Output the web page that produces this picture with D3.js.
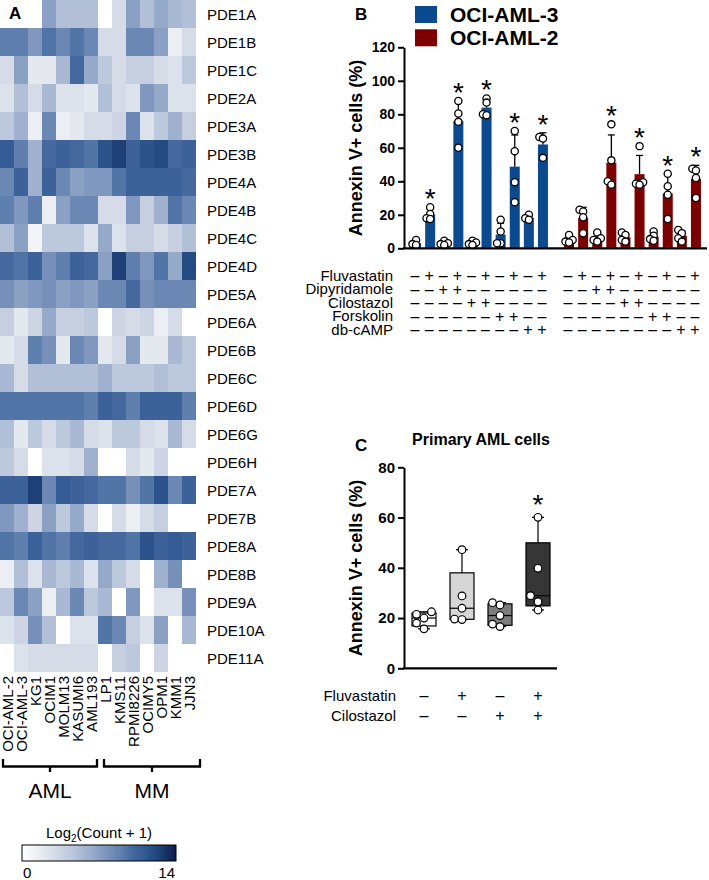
<!DOCTYPE html>
<html><head><meta charset="utf-8">
<script src="https://cdn.jsdelivr.net/npm/d3@7"></script>
<style>
html,body{margin:0;padding:0;background:#fff;}
svg{display:block;font-family:Arial,"Liberation Sans",Helvetica,sans-serif;}
svg text{fill:#000;}
</style></head><body>
<svg id="chart" width="709" height="880"></svg>
<script>
// ---------------- Panel A data ----------------
const genes = ["PDE1A","PDE1B","PDE1C","PDE2A","PDE3A","PDE3B","PDE4A","PDE4B","PDE4C","PDE4D","PDE5A","PDE6A","PDE6B","PDE6C","PDE6D","PDE6G","PDE6H","PDE7A","PDE7B","PDE8A","PDE8B","PDE9A","PDE10A","PDE11A"];
const cellLines = ["OCI-AML-2","OCI-AML-3","KG1","OCIM1","MOLM13","KASUMI6","AML193","LP1","KMS11","RPMI8226","OCIMY5","OPM1","KMM1","JJN3"];
const cellGroups = [{name:"AML", first:"OCI-AML-2", last:"AML193"},{name:"MM", first:"LP1", last:"JJN3"}];
const expression = [
 [0,0,0,7,5,5,5,0,3,7,5,6.5,5.5,5],
 [9,9,7.5,9.5,8.5,9.5,8.5,3,3,8.5,8.5,7,1.5,3],
 [3,7,2,2,5.5,10,6.5,4.5,3,4,4,3,2.5,4.5],
 [2.5,5,3,5.5,2.5,2.5,2,5,3,2.5,7.5,6.5,2.5,2.5],
 [4.5,6,1.5,8.5,1.5,2,3,3,3.5,8.5,2.5,4.5,6,4],
 [11,9,6,10,10.5,10,9.5,11.5,12.5,10.5,11.5,12,10,10.5],
 [8.5,10.5,6,10.5,8.5,7,7.5,7.5,9.5,10.5,10.5,10.5,10.5,10],
 [9,7.5,9,1.5,7,8.5,8.5,3,3,7.5,4,6,9.5,8.5],
 [5,7,1,4.5,4.5,4.5,2.5,6.5,2.5,4,4,3,4,5],
 [10,9.5,10.5,8,9,10.5,10,7,12.5,9,7.5,9.5,6.5,12],
 [8,7,7.5,8,7,7.5,7,8.5,8.5,10,8,8.5,8.5,8.5],
 [4,2,3.5,6.5,4,4,4.5,0,3.5,3,3.5,1.5,3,0],
 [2,3,9,8,2,8.5,7.5,2,3,7,2,2,5.5,4.5],
 [5.5,3,5,5,5,5,5,6,4.5,4.5,4.5,5,4.5,4.5],
 [9.5,9.5,9.5,9.5,9.5,9.5,9,10.5,10,9,10.5,10.5,10.5,9],
 [5,2,4.5,3,4.5,5.5,3,2.5,4.5,4.5,3,2.5,5.5,3],
 [4.5,3,0,2.5,2.5,3,6,0,0,3,2,3.5,0,0],
 [10.5,10.5,12.5,8.5,11,10.5,10,9.5,9.5,8,9.5,11.5,8.5,10.5],
 [7.5,6,3.5,7,4.5,6.5,3,0,3,1.5,3,4,0,0],
 [9.5,9,10.5,9.5,9,10,10.5,10,10,9.5,11.5,10.5,11,10.5],
 [1.5,5,2.5,5.5,4.5,5.5,2.5,6.5,4.5,3,0,6,8,0],
 [4.5,8.5,7,1.5,5.5,8.5,4.5,5.5,0,7.5,0,2.5,2.5,8],
 [2.5,3.5,8,5,0,2.5,2.5,9.5,8.5,4,2.5,7,0,5.5],
 [0,2.5,3,3,3,3,3,0,4,4.5,0,3.5,0,0]
];
const colorDomain = [0, 14];
const colorTicks = [0, 14];

// ---------------- Panel B data ----------------
const cellLinesB = ["OCI-AML-3","OCI-AML-2"];
const conditionsB = ["ctrl","F","D","F+D","C","F+C","Fk","F+Fk","cAMP","F+cAMP"];
const treatmentsB = ["Fluvastatin","Dipyridamole","Cilostazol","Forskolin","db-cAMP"];
const treatmentMatrixB = [
 [0,1,0,1,0,1,0,1,0,1],
 [0,0,1,1,0,0,0,0,0,0],
 [0,0,0,0,1,1,0,0,0,0],
 [0,0,0,0,0,0,1,1,0,0],
 [0,0,0,0,0,0,0,0,1,1]
];
const aml3Points = [
 [5,2.5,2],[24.5,20.5,18,17.5],[4.5,3,2.5,2],[88,80.5,75.5,60],[4.5,3.5,2.5,2],
 [89.5,87,80,79.5],[17,10,3,3],[70,58,39.5,27.5],[20,18,17],[66.5,65.5,54]
];
const aml2Points = [
 [8,5,4,3.5],[23,22,18.5,9],[9.5,6,5,4],[74,52.5,40,38],[9.5,8,5,4],
 [61,39.5,38.5,38],[10,7.5,5.5,4.5],[44.5,37,32,17.5],[11,9,6,4],[47.5,46.5,42,30]
];
const aml3Sig = [0,1,0,1,0,1,0,1,0,1];
const aml2Sig = [0,0,0,1,0,1,0,1,0,1];
const yTicksB = [0,20,40,60,80,100,120];

// ---------------- Panel C data ----------------
const groupsC = ["ctrl","F","C","F+C"];
const primaryPoints = [
 [22.5,21.5,20,18,15.7],
 [47.2,28.8,23.9,19.6,19.4],
 [26.1,25.2,21,17.6,16.6],
 [60.1,39.8,28.9,26.5,23.2]
];
const treatmentsC = ["Fluvastatin","Cilostazol"];
const treatmentMatrixC = [[0,1,0,1],[0,0,1,1]];
const sigC = [0,0,0,1];
const yTicksC = [0,20,40,60,80];

// ---------------- styles ----------------
const FONT = "Arial, 'Liberation Sans', Helvetica, sans-serif";
const seriesColors = {"OCI-AML-3":"#0b4a8f","OCI-AML-2":"#7d0000"};
const boxFills = ["#ffffff","#d6d6d6","#7d7d7d","#363636"];

const svg = d3.select("#chart");

// ================= Panel A =================
const xA = d3.scaleBand().domain(cellLines).range([0,196]);
const yA = d3.scaleBand().domain(genes).range([0,672]);
const color = d3.scaleLinear()
  .domain([0,2,4,6,8,9,10,11,12,14])
  .range(["#ffffff","#e4e8ef","#c5cfe0","#9fb1ce","#7690ba","#5f80af","#45699f","#345b93","#244c83","#0c1b4d"])
  .clamp(true);

const cells = [];
expression.forEach((row,r)=>row.forEach((v,c)=>cells.push({g:genes[r],c:cellLines[c],v})));
const gA = svg.append("g");
gA.selectAll("rect").data(cells).join("rect")
  .attr("x",d=>xA(d.c)).attr("y",d=>yA(d.g))
  .attr("width",xA.bandwidth()+0.4).attr("height",yA.bandwidth()+0.4)
  .attr("fill",d=>color(d.v)).attr("shape-rendering","crispEdges");

svg.append("text").attr("x",9).attr("y",19).attr("font-size",17).attr("font-weight","bold").text("A");

gA.selectAll("text.gene").data(genes).join("text").attr("class","gene")
  .attr("x",207).attr("y",d=>yA(d)+yA.bandwidth()/2)
  .attr("dominant-baseline","central").attr("font-size",15).text(d=>d);

gA.selectAll("text.cl").data(cellLines).join("text").attr("class","cl")
  .attr("transform",d=>`translate(${xA(d)+xA.bandwidth()/2},676) rotate(-90)`)
  .attr("text-anchor","end").attr("dominant-baseline","central").attr("font-size",15).text(d=>d);

cellGroups.forEach((g,gi)=>{
  const x0 = xA(g.first)+(gi===0?3:6), x1 = xA(g.last)+xA.bandwidth()+(gi===0?-1:4);
  const yb = 766.5, mid=(x0+x1)/2;
  gA.append("path").attr("d",`M${x0},759 L${x0},${yb} L${x1},${yb} L${x1},759 M${mid},${yb} L${mid},772`)
    .attr("fill","none").attr("stroke","#000").attr("stroke-width",2.3);
  gA.append("text").attr("x",mid).attr("y",798).attr("text-anchor","middle").attr("font-size",21).text(g.name);
});

// colorbar
const xCb = d3.scaleLinear().domain(colorDomain).range([22,176]);
const defs = svg.append("defs");
const grad = defs.append("linearGradient").attr("id","cb").attr("x1","0%").attr("x2","100%");
d3.range(0,14.01,0.5).forEach(t=>grad.append("stop").attr("offset",(t/14*100)+"%").attr("stop-color",color(t)));
svg.append("rect").attr("x",xCb(0)).attr("y",845).attr("width",xCb(14)-xCb(0)).attr("height",16)
  .attr("fill","url(#cb)").attr("stroke","#000").attr("stroke-width",1);
const cbt = svg.append("text").attr("x",(xCb(0)+xCb(14))/2).attr("y",838).attr("text-anchor","middle").attr("font-size",15);
cbt.append("tspan").text("Log");
cbt.append("tspan").attr("font-size",10).attr("dy",4).text("2");
cbt.append("tspan").attr("dy",-4).text("(Count + 1)");
colorTicks.forEach((t,i)=>{
  svg.append("text").attr("x",i===0?xCb(t)+1:xCb(t)-1).attr("y",878)
    .attr("text-anchor",i===0?"start":"end").attr("font-size",15).text(t);
});

// ================= helpers =================
function swarm(values, yScale, thresh, step){
  const idx = values.map((v,i)=>i).sort((a,b)=>values[a]-values[b]);
  const placed=[], off=new Array(values.length).fill(0);
  const cands=[0,-step,step,-2*step,2*step];
  idx.forEach(i=>{
    const y=yScale(values[i]); let chosen=cands[cands.length-1];
    for(const dx of cands){ if(placed.every(p=>Math.hypot(p.x-dx,p.y-y)>=thresh)){chosen=dx;break;} }
    off[i]=chosen; placed.push({x:chosen,y});
  });
  return off;
}
function starText(g,x,yc,fs){
  g.append("text").attr("x",x).attr("y",yc+0.6*fs).attr("text-anchor","middle").attr("font-size",fs).text("*");
}
// one text line holding a row of signs, each sign placed at its own x
function signRow(g,xs,flags,y,fs){
  const t=g.append("text").attr("y",y).attr("dominant-baseline","central").attr("text-anchor","middle").attr("font-size",fs);
  xs.forEach((x,i)=>t.append("tspan").attr("x",x).text(flags[i]?"+":"\u2013"));
}

// ================= Panel B =================
const gB = svg.append("g");
const yB = d3.scaleLinear().domain([0,120]).range([248.3,47.3]);
const outer = d3.scaleBand().domain(cellLinesB).range([409,703]).paddingInner(0.0784);
const inner = d3.scaleBand().domain(conditionsB).range([0,outer.bandwidth()]).paddingInner(0.29).paddingOuter(0.145);
const barsB = [];
[[cellLinesB[0],aml3Points,aml3Sig],[cellLinesB[1],aml2Points,aml2Sig]].forEach(([cl,pts,sig])=>{
  pts.forEach((p,i)=>{
    const mean=d3.mean(p), sd=d3.deviation(p);
    barsB.push({cl,cond:conditionsB[i],pts:p,mean,sd,sig:sig[i],
      x:outer(cl)+inner(conditionsB[i]), cx:outer(cl)+inner(conditionsB[i])+inner.bandwidth()/2});
  });
});

svg.append("text").attr("x",355).attr("y",20).attr("font-size",17).attr("font-weight","bold").text("B");

// legend
cellLinesB.forEach((cl,i)=>{
  gB.append("rect").attr("x",415).attr("y",6+i*23.3).attr("width",22).attr("height",17).attr("fill",seriesColors[cl]);
  gB.append("text").attr("x",450).attr("y",21.7+i*23.3).attr("font-size",21).attr("font-weight","bold").text(cl);
});

// bars
barsB.forEach(b=>{
  gB.append("rect").attr("x",b.x).attr("y",yB(b.mean)).attr("width",inner.bandwidth())
    .attr("height",yB(0)-yB(b.mean)).attr("fill",seriesColors[b.cl]);
  const top=yB(b.mean+b.sd);
  gB.append("line").attr("x1",b.cx).attr("x2",b.cx).attr("y1",yB(b.mean)).attr("y2",top).attr("stroke","#000").attr("stroke-width",1.3);
  gB.append("line").attr("x1",b.cx-3.5).attr("x2",b.cx+3.5).attr("y1",top).attr("y2",top).attr("stroke","#000").attr("stroke-width",1.3);
  const off=swarm(b.pts,yB,3.6,3.6);
  b.pts.forEach((v,k)=>{
    gB.append("circle").attr("cx",b.cx+off[k]).attr("cy",yB(v)).attr("r",3.6)
      .attr("fill","#fff").attr("stroke","#000").attr("stroke-width",1.3);
  });
  if(b.sig){
    const m=Math.max(d3.max(b.pts),b.mean+b.sd);
    starText(gB,b.cx,yB(m)-16,28);
  }
});

// axes
const axB = gB.append("g").attr("transform","translate(404,0)")
  .call(d3.axisLeft(yB).tickValues(yTicksB).tickSize(6).tickSizeOuter(0).tickPadding(3));
axB.select(".domain").attr("stroke-width",2);
axB.selectAll(".tick line").attr("stroke-width",2);
axB.selectAll(".tick text").attr("font-size",14).attr("font-weight","bold").attr("font-family",FONT).attr("fill","#000");
gB.append("line").attr("x1",403).attr("x2",707).attr("y1",yB(0)).attr("y2",yB(0)).attr("stroke","#000").attr("stroke-width",2.2);
gB.append("text").attr("transform","translate(361.5,148) rotate(-90)").attr("text-anchor","middle")
  .attr("font-size",18).attr("font-weight","bold").text("Annexin V+ cells (%)");

// table B
treatmentsB.forEach((t,r)=>{
  const y=275+r*13.5;
  gB.append("text").attr("x",393).attr("y",y).attr("dominant-baseline","central").attr("text-anchor","end").attr("font-size",15).text(t);
  cellLinesB.forEach(cl=>{
    const bs=barsB.filter(b=>b.cl===cl);
    signRow(gB,bs.map(b=>b.cx-1),bs.map(b=>treatmentMatrixB[r][conditionsB.indexOf(b.cond)]),y,16);
  });
});

// ================= Panel C =================
const gC = svg.append("g");
const yCs = d3.scaleLinear().domain([0,80]).range([668.3,467.3]);
const xCs = d3.scaleBand().domain(groupsC).range([405,557]).paddingInner(0.368).paddingOuter(0.184);
svg.append("text").attr("x",355).attr("y",451).attr("font-size",17).attr("font-weight","bold").text("C");
gC.append("text").attr("x",481).attr("y",445).attr("text-anchor","middle").attr("font-size",16).attr("font-weight","bold").text("Primary AML cells");

function quant(s,p){const n=s.length;const pos=(n+1)*p;const lo=Math.floor(pos);const f=pos-lo;
  const a=s[Math.min(n-1,Math.max(0,lo-1))], b=s[Math.min(n-1,Math.max(0,lo))];return a+(b-a)*f;}

groupsC.forEach((g,i)=>{
  const s=primaryPoints[i].slice().sort((a,b)=>a-b);
  const q1=quant(s,0.25), med=quant(s,0.5), q3=quant(s,0.75), mn=s[0], mx=s[s.length-1];
  const x0=xCs(g), w=xCs.bandwidth(), cx=x0+w/2;
  const ln=(x1,y1,x2,y2)=>gC.append("line").attr("x1",x1).attr("y1",y1).attr("x2",x2).attr("y2",y2).attr("stroke","#000").attr("stroke-width",1.2);
  ln(cx,yCs(mn),cx,yCs(q1)); ln(cx,yCs(q3),cx,yCs(mx));
  ln(cx-6,yCs(mn),cx+6,yCs(mn)); ln(cx-6,yCs(mx),cx+6,yCs(mx));
  gC.append("rect").attr("x",x0).attr("y",yCs(q3)).attr("width",w).attr("height",yCs(q1)-yCs(q3))
    .attr("fill",boxFills[i]).attr("stroke","#000").attr("stroke-width",1.2);
  ln(x0,yCs(med),x0+w,yCs(med));
  const off=swarm(primaryPoints[i],yCs,6.5,7.5);
  primaryPoints[i].forEach((v,k)=>{
    gC.append("circle").attr("cx",cx+off[k]).attr("cy",yCs(v)).attr("r",3.8)
      .attr("fill","#fff").attr("stroke","#000").attr("stroke-width",1.2);
  });
  if(sigC[i]) starText(gC,cx,yCs(mx)-20,28);
});
const axC = gC.append("g").attr("transform","translate(404,0)")
  .call(d3.axisLeft(yCs).tickValues(yTicksC).tickSize(6).tickSizeOuter(0).tickPadding(3));
axC.select(".domain").attr("stroke-width",2);
axC.selectAll(".tick line").attr("stroke-width",2);
axC.selectAll(".tick text").attr("font-size",15).attr("font-weight","bold").attr("font-family",FONT).attr("fill","#000");
gC.append("line").attr("x1",403).attr("x2",557).attr("y1",yCs(0)).attr("y2",yCs(0)).attr("stroke","#000").attr("stroke-width",2.2);
gC.append("text").attr("transform","translate(361.5,568) rotate(-90)").attr("text-anchor","middle")
  .attr("font-size",18).attr("font-weight","bold").text("Annexin V+ cells (%)");

treatmentsC.forEach((t,r)=>{
  const y=695+r*20;
  gC.append("text").attr("x",396).attr("y",y).attr("dominant-baseline","central").attr("text-anchor","end").attr("font-size",15).text(t);
  signRow(gC,groupsC.map(g=>xCs(g)+xCs.bandwidth()/2),treatmentMatrixC[r],y,16);
});
</script>
</body></html>
